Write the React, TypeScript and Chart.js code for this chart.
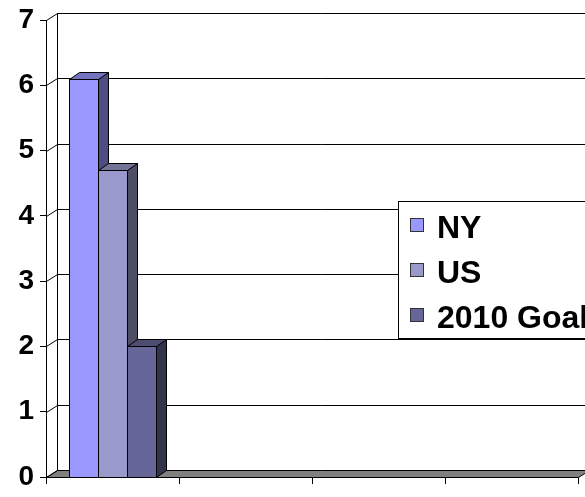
import React, { useEffect, useRef } from 'react';
import { Chart, registerables } from 'chart.js';

Chart.register(...registerables);

const categories = ['', '', '', ''];
const seriesNames = ['NY', 'US', '2010 Goal'];
const nyValues = [6.1, null, null, null];
const usValues = [4.7, null, null, null];
const goalValues = [2.0, null, null, null];
const yMin = 0;
const yMax = 7;
const yStep = 1;
const seriesColors = ['#9999FF', '#9999CC', '#666699'];

const FONT = '"Liberation Sans", Arial, Helvetica, sans-serif';
const WALL_DX = 11;
const WALL_DY = -7;
const BAR_DX = 10;
const BAR_DY = -7;

function shade(hex: string, f: number): string {
  const n = parseInt(hex.slice(1), 16);
  const r = Math.round(((n >> 16) & 255) * f);
  const g = Math.round(((n >> 8) & 255) * f);
  const b = Math.round((n & 255) * f);
  return `rgb(${r},${g},${b})`;
}

const h = (v: number) => Math.round(v) + 0.5;

function poly(ctx: CanvasRenderingContext2D, pts: number[][], fill: string) {
  ctx.beginPath();
  ctx.moveTo(pts[0][0], pts[0][1]);
  for (let i = 1; i < pts.length; i++) ctx.lineTo(pts[i][0], pts[i][1]);
  ctx.closePath();
  ctx.fillStyle = fill;
  ctx.fill();
  ctx.stroke();
}

const threeD = {
  id: 'threeD',
  beforeDatasetsDraw(chart: any) {
    const { ctx, chartArea: a, scales } = chart;
    const ys = scales.y;
    ctx.save();
    ctx.lineWidth = 1;
    ctx.strokeStyle = '#000';
    const L = h(a.left), R = h(a.right), B = h(a.bottom);
    // floor
    poly(ctx, [[L, B], [L + WALL_DX, B + WALL_DY], [R + WALL_DX, B + WALL_DY], [R, B]], '#808080');
    // back wall grid lines + side wall diagonals
    ctx.beginPath();
    ys.ticks.forEach((t: any) => {
      const py = h(ys.getPixelForValue(t.value));
      if (t.value > yMin) {
        ctx.moveTo(L + WALL_DX, py + WALL_DY);
        ctx.lineTo(R + WALL_DX, py + WALL_DY);
      }
      ctx.moveTo(L, py);
      ctx.lineTo(L + WALL_DX, py + WALL_DY);
    });
    ctx.moveTo(L + WALL_DX, h(a.top) + WALL_DY);
    ctx.lineTo(L + WALL_DX, B + WALL_DY);
    ctx.stroke();
    // bars
    chart.data.datasets.forEach((ds: any, i: number) => {
      const meta = chart.getDatasetMeta(i);
      const col = seriesColors[i];
      meta.data.forEach((bar: any, j: number) => {
        if (ds.data[j] == null) return;
        const p = bar.getProps(['x', 'y', 'base', 'width'], true);
        const left = h(p.x - p.width / 2);
        const right = h(p.x + p.width / 2);
        const top = h(p.y);
        const base = h(p.base);
        poly(ctx, [[right, top], [right + BAR_DX, top + BAR_DY], [right + BAR_DX, base + BAR_DY], [right, base]], shade(col, 0.5));
        poly(ctx, [[left, top], [left + BAR_DX, top + BAR_DY], [right + BAR_DX, top + BAR_DY], [right, top]], shade(col, 0.75));
        poly(ctx, [[left, top], [right, top], [right, base], [left, base]], col);
      });
    });
    ctx.restore();
    return false;
  },
  afterDraw(chart: any) {
    const ctx = chart.ctx;
    ctx.save();
    ctx.lineWidth = 1;
    ctx.strokeStyle = '#000';
    ctx.fillStyle = '#fff';
    ctx.fillRect(398.5, 201.5, 200, 137);
    ctx.strokeRect(398.5, 201.5, 200, 137);
    ctx.font = `bold 32px ${FONT}`;
    ctx.textBaseline = 'alphabetic';
    ctx.textAlign = 'left';
    seriesNames.forEach((name, i) => {
      const base = 238 + i * 45;
      ctx.fillStyle = seriesColors[i];
      ctx.strokeStyle = '#333';
      ctx.fillRect(410.5, base - 20 + 0.5, 13, 13);
      ctx.strokeRect(410.5, base - 20 + 0.5, 13, 13);
      ctx.fillStyle = '#000';
      ctx.fillText(name, 437, base);
    });
    ctx.restore();
  },
};

export default function App() {
  const ref = useRef<HTMLCanvasElement>(null);
  useEffect(() => {
    if (!ref.current) return;
    const chart = new Chart(ref.current, {
      type: 'bar',
      data: {
        labels: categories,
        datasets: [
          { label: seriesNames[0], data: nyValues, backgroundColor: seriesColors[0] },
          { label: seriesNames[1], data: usValues, backgroundColor: seriesColors[1] },
          { label: seriesNames[2], data: goalValues, backgroundColor: seriesColors[2] },
        ],
      },
      options: {
        responsive: false,
        animation: false,
        events: [],
        layout: { padding: { top: 19, right: 7, left: 0, bottom: 0 } },
        datasets: { bar: { categoryPercentage: 0.66, barPercentage: 1, borderWidth: 1, borderColor: '#000' } },
        plugins: { legend: { display: false }, tooltip: { enabled: false } },
        scales: {
          x: {
            offset: true,
            grid: { offset: true, drawOnChartArea: false, drawTicks: true, tickLength: 7, color: '#000' },
            border: { display: true, color: '#000' },
            ticks: { display: true, font: { size: 1 } },
            afterFit: (s: any) => { s.height = 15; },
          },
          y: {
            min: yMin,
            max: yMax,
            ticks: { stepSize: yStep, color: '#000', padding: 6, font: { family: FONT, size: 28, weight: 'bold', lineHeight: 1 } },
            grid: { drawOnChartArea: false, drawTicks: true, tickLength: 6, color: '#000' },
            border: { display: true, color: '#000' },
            afterFit: (s: any) => { s.width = 46; },
          },
        },
      },
      plugins: [threeD],
    });
    return () => chart.destroy();
  }, []);
  return (
    <canvas
      ref={ref}
      width={585}
      height={497}
      style={{ position: 'fixed', left: 0, top: 0, display: 'block', width: 585, height: 497 }}
    />
  );
}
